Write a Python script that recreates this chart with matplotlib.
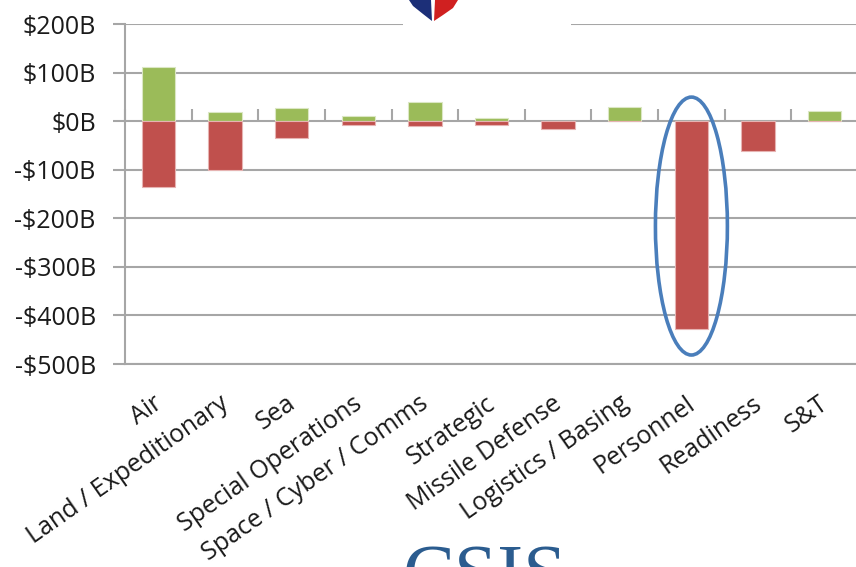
import numpy as np
import matplotlib.pyplot as plt
import matplotlib.transforms as mtransforms
from matplotlib.patches import Ellipse, Rectangle, Polygon

# --------------------------
# Data ($B)
# --------------------------
categories = ['Air', 'Land / Expeditionary', 'Sea', 'Special Operations',
              'Space / Cyber / Comms', 'Strategic', 'Missile Defense',
              'Logistics / Basing', 'Personnel', 'Readiness', 'S&T']
increases = [112, 19, 27, 11, 40, 6, 0, 30, 0, 0, 21]
decreases = [-135, -101, -34, -7, -10, -7, -17, 0, -427, -62, 0]
y_ticks = [200, 100, 0, -100, -200, -300, -400, -500]
y_labels = ['$200B', '$100B', '$0B', '-$100B', '-$200B', '-$300B', '-$400B', '-$500B']
highlight = 'Personnel'

plt.rcParams['font.family'] = ['Open Sans', 'DejaVu Sans']

fig = plt.figure(figsize=(8.56, 5.67), dpi=100)
ax = fig.add_axes([125 / 856, 1 - 364 / 567, 733 / 856, 340 / 567])

x = np.arange(len(categories))
green = '#9bbb59'
red = '#c0504d'
grid_col = '#a6a6a6'
text_col = '#1a1a1a'

ax.bar(x, increases, width=0.5, color=green, edgecolor='#dbe7c4', linewidth=0.8, zorder=3)
ax.bar(x, decreases, width=0.5, color=red, edgecolor='#e6b3b2', linewidth=0.8, zorder=3)

ax.set_xlim(-0.5, len(categories) - 0.5)
ax.set_ylim(-500, 200)
ax.set_yticks(y_ticks)
ax.set_yticklabels(y_labels, fontsize=18, color=text_col)
ax.yaxis.grid(True, color=grid_col, linewidth=1.5, zorder=1)
ax.tick_params(axis='y', length=9, width=1.5, color=grid_col, pad=12)

for s in ['top', 'right']:
    ax.spines[s].set_visible(False)
for s in ['left', 'bottom']:
    ax.spines[s].set_color(grid_col)
    ax.spines[s].set_linewidth(1.5)

# category labels: top-right corner a bit left of the category centre
ax.set_xticks(x)
ax.set_xticklabels([])
ax.tick_params(axis='x', length=0)
lab_trans = ax.get_xaxis_transform() + mtransforms.ScaledTranslation(-6 / 100, -27 / 100, fig.dpi_scale_trans)
for xi, name in zip(x, categories):
    ax.text(xi, 0, name, transform=lab_trans, fontsize=18, color=text_col,
            rotation=35, ha='right', va='top', rotation_mode='anchor')

# boundary ticks on the zero line
zero_frac = (0 - (-500)) / (200 - (-500))
sec = ax.secondary_xaxis(zero_frac)
sec.set_xticks(np.arange(len(categories) + 1) - 0.5)
sec.set_xticklabels([])
sec.tick_params(length=9, width=1.5, color=grid_col, direction='out')
sec.spines['bottom'].set_visible(False)
sec.spines['top'].set_visible(False)

# highlight ellipse round Personnel
i = categories.index(highlight)
ell = Ellipse((i, -216), width=1.08, height=531, fill=False,
              edgecolor='#4a7ebb', linewidth=2.6, zorder=5)
ax.add_patch(ell)

# logo remnants at top and bottom (figure pixel coords)
def fpt(px, py):
    return (px / 856, 1 - py / 567)

fig.patches.append(Rectangle(fpt(403, 26), 168 / 856, 26 / 567,
                             transform=fig.transFigure, facecolor='white',
                             edgecolor='none', zorder=10))
fig.patches.append(Polygon([fpt(409, 0), fpt(431, 0), fpt(432, 21), fpt(423, 14), fpt(413, 6)],
                           closed=True, transform=fig.transFigure,
                           facecolor='#1c2f78', edgecolor='none', zorder=11))
fig.patches.append(Polygon([fpt(435, 0), fpt(458, 0), fpt(453, 8), fpt(443, 15), fpt(434, 21)],
                           closed=True, transform=fig.transFigure,
                           facecolor='#d02020', edgecolor='none', zorder=11))
fig.text(485 / 856, 1 - 598 / 567, 'CSIS', family='Liberation Serif', fontsize=56,
         color='#2b5c8f', ha='center', va='baseline')

plt.savefig('out.png', dpi=100)
